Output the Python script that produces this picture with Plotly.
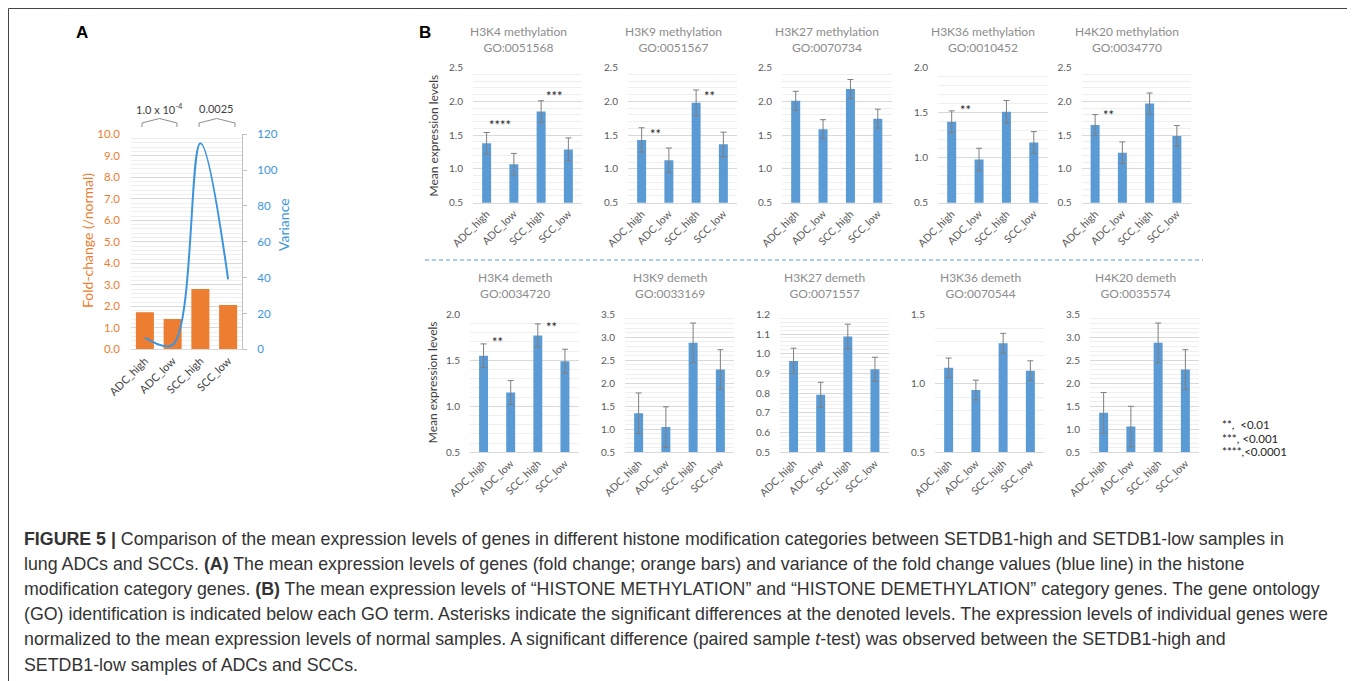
import plotly.graph_objects as go
import plotly.io as pio

pio.templates.default = "none"
W, H = 1355, 681
OX, OY = 8, 8   # page body margin compensation

# ---------------- data ----------------
categories = ["ADC_high", "ADC_low", "SCC_high", "SCC_low"]

# Panel A
fold_change = [1.72, 1.41, 2.80, 2.06]
variance = [6.5, 2.5, 115.0, 39.0]
pvalues_A = ["1.0 x 10<sup>-4</sup>", "0.0025"]

# Panel B
titles_B = ["H3K4 methylation", "H3K9 methylation", "H3K27 methylation",
            "H3K36 methylation", "H4K20 methylation",
            "H3K4 demeth", "H3K9 demeth", "H3K27 demeth",
            "H3K36 demeth", "H4K20 demeth"]
go_ids = ["GO:0051568", "GO:0051567", "GO:0070734", "GO:0010452", "GO:0034770",
          "GO:0034720", "GO:0033169", "GO:0071557", "GO:0070544", "GO:0035574"]

h3k4_meth = [1.38, 1.07, 1.85, 1.29]
h3k4_meth_err = [0.16, 0.16, 0.16, 0.17]
h3k9_meth = [1.43, 1.13, 1.98, 1.365]
h3k9_meth_err = [0.18, 0.18, 0.19, 0.18]
h3k27_meth = [2.01, 1.59, 2.185, 1.745]
h3k27_meth_err = [0.14, 0.14, 0.14, 0.14]
h3k36_meth = [1.40, 0.98, 1.51, 1.17]
h3k36_meth_err = [0.12, 0.125, 0.125, 0.12]
h4k20_meth = [1.65, 1.24, 1.97, 1.49]
h4k20_meth_err = [0.155, 0.16, 0.155, 0.153]
h3k4_dem = [1.55, 1.15, 1.77, 1.49]
h3k4_dem_err = [0.128, 0.13, 0.126, 0.13]
h3k9_dem = [1.35, 1.05, 2.88, 2.30]
h3k9_dem_err = [0.44, 0.44, 0.43, 0.43]
h3k27_dem = [0.963, 0.792, 1.087, 0.921]
h3k27_dem_err = [0.065, 0.063, 0.063, 0.061]
h3k36_dem = [1.113, 0.951, 1.29, 1.091]
h3k36_dem_err = [0.07, 0.072, 0.072, 0.072]
h4k20_dem = [1.36, 1.06, 2.88, 2.30]
h4k20_dem_err = [0.44, 0.44, 0.43, 0.43]

means_B = [h3k4_meth, h3k9_meth, h3k27_meth, h3k36_meth, h4k20_meth,
           h3k4_dem, h3k9_dem, h3k27_dem, h3k36_dem, h4k20_dem]
errs_B = [h3k4_meth_err, h3k9_meth_err, h3k27_meth_err, h3k36_meth_err, h4k20_meth_err,
          h3k4_dem_err, h3k9_dem_err, h3k27_dem_err, h3k36_dem_err, h4k20_dem_err]
yranges_B = [[0.5, 2.5], [0.5, 2.5], [0.5, 2.5], [0.5, 2.0], [0.5, 2.5],
             [0.5, 2.0], [0.5, 3.5], [0.5, 1.2], [0.5, 1.5], [0.5, 3.5]]
dticks_B = [0.5, 0.5, 0.5, 0.5, 0.5, 0.5, 0.5, 0.1, 0.5, 0.5]
minor_B = [0.1, 0.1, 0.1, 0.1, 0.1, 0.1, 0.1, 0.02, 0.1, 0.1]

# significance marks: (panel, x position between bars, y value, text)
stars = [(0, 0.5, 1.70, "****"), (0, 2.5, 2.12, "***"),
         (1, 0.5, 1.56, "**"), (1, 2.5, 2.13, "**"),
         (3, 0.5, 1.56, "**"), (4, 0.5, 1.85, "**"),
         (5, 0.5, 1.735, "**"), (5, 2.5, 1.895, "**")]
legend_lines = ["**,&nbsp;&nbsp;&lt;0.01", "***, &lt;0.001", "****,&lt;0.0001"]

caption_lines = [
    "<b>FIGURE 5 |</b> Comparison of the mean expression levels of genes in different histone modification categories between SETDB1-high and SETDB1-low samples in",
    "lung ADCs and SCCs. <b>(A)</b> The mean expression levels of genes (fold change; orange bars) and variance of the fold change values (blue line) in the histone",
    "modification category genes. <b>(B)</b> The mean expression levels of \u201cHISTONE METHYLATION\u201d and \u201cHISTONE DEMETHYLATION\u201d category genes. The gene ontology",
    "(GO) identification is indicated below each GO term. Asterisks indicate the significant differences at the denoted levels. The expression levels of individual genes were",
    "normalized to the mean expression levels of normal samples. A significant difference (paired sample <i>t</i>-test) was observed between the SETDB1-high and",
    "SETDB1-low samples of ADCs and SCCs.",
]

# ---------------- style ----------------
ORANGE = "#ED7D31"
BLUE_LINE = "#3C95DC"
BAR_BLUE = "#5B9BD5"
GRID = "#D9D9D9"
MINOR = "#EFEFEF"
CHART_FONT = "Lato, Open Sans, sans-serif"
CAP_FONT = "Liberation Sans, Arial, sans-serif"


def px(x):
    return (x - OX) / W


def py(y):
    return 1 - (y - OY) / H


def xd(a, b):
    return [px(a), px(b)]


def yd(top, bot):
    return [py(bot), py(top)]


def note(text, x, y, size, color, family=CHART_FONT, xanchor="center", yanchor="middle", **kw):
    d = dict(text=text, x=px(x), y=py(y), xref="paper", yref="paper", showarrow=False,
             xanchor=xanchor, yanchor=yanchor, font=dict(size=size, color=color, family=family))
    d.update(kw)
    return d


fig = go.Figure()
layout = dict(width=W, height=H, margin=dict(l=0, r=0, t=0, b=0, pad=0, autoexpand=False),
              autosize=False,
              paper_bgcolor="white", plot_bgcolor="rgba(0,0,0,0)",
              showlegend=False, font=dict(family=CHART_FONT))
annotations = []
shapes = []

# ---------------- Panel A ----------------
fig.add_trace(go.Bar(x=categories, y=fold_change, marker_color=ORANGE, width=0.65,
                     xaxis="x", yaxis="y", hoverinfo="skip"))
fig.add_trace(go.Scatter(x=categories, y=variance, mode="lines",
                         line=dict(color=BLUE_LINE, width=2, shape="spline", smoothing=1.0),
                         xaxis="x", yaxis="y12", hoverinfo="skip"))
layout["xaxis"] = dict(domain=xd(131, 242), anchor="y", type="category", range=[-0.5, 3.5],
                       tickangle=-45, tickfont=dict(size=11, color="#404040"), automargin=False,
                       showline=True, linecolor=GRID, showgrid=False, fixedrange=True, ticks="")
layout["yaxis"] = dict(domain=yd(134.3, 349.3), anchor="x", range=[0, 10], dtick=1,
                       tickformat=".1f", tickfont=dict(size=11.5, color=ORANGE), automargin=False,
                       showgrid=True, gridcolor=GRID, gridwidth=1, zeroline=False, ticks="",
                       minor=dict(dtick=0.2, showgrid=True, gridcolor=MINOR),
                       ticklabelstandoff=10)
layout["yaxis12"] = dict(overlaying="y", side="right", anchor="x", range=[0, 120], dtick=20,
                         showgrid=False, zeroline=False, automargin=False,
                         tickfont=dict(size=11.5, color=BLUE_LINE),
                         showline=True, linecolor="#BFBFBF", ticks="outside", ticklen=4,
                         tickcolor="#BFBFBF", ticklabelstandoff=8)
annotations.append(note("Fold-change (/normal)", 87, 241, 14, ORANGE, textangle=-90))
annotations.append(note("Variance", 283, 225, 14, BLUE_LINE, textangle=-90))
for txt, cx in zip(pvalues_A, [159.5, 216.5]):
    annotations.append(note(txt, cx, 108, 11, "#404040"))
for (a, m, b) in [(142, 159.5, 177), (199, 216.7, 235)]:
    path = (f"M {px(a)},{py(127)} L {px(a)},{py(123)} L {px(m)},{py(118.5)} "
            f"L {px(b)},{py(123)} L {px(b)},{py(127)}")
    shapes.append(dict(type="path", path=path, xref="paper", yref="paper",
                       line=dict(color="#8C8C8C", width=1)))

# ---------------- Panel B ----------------
plot_x = [(473, 582), (628, 737), (782, 891.5), (938, 1047.5), (1081.5, 1190.5),
          (470, 578.5), (625, 734), (780, 888.5), (935, 1044), (1090, 1199)]
row_y = [(67.7, 202.7), (314.3, 452.3)]

for i in range(10):
    k = i + 2
    r = 0 if i < 5 else 1
    x0, x1 = plot_x[i]
    y0, y1 = row_y[r]
    fig.add_trace(go.Bar(x=categories, y=means_B[i], marker_color=BAR_BLUE, width=0.33,
                         error_y=dict(type="data", array=errs_B[i], color="#7F7F7F",
                                      thickness=1, width=3),
                         xaxis=f"x{k}", yaxis=f"y{k}", hoverinfo="skip"))
    layout[f"xaxis{k}"] = dict(domain=xd(x0, x1), anchor=f"y{k}", type="category",
                               range=[-0.5, 3.5], tickangle=-45, automargin=False, ticks="",
                               tickfont=dict(size=10.5, color="#595959"),
                               showline=True, linecolor=GRID, showgrid=False, fixedrange=True)
    layout[f"yaxis{k}"] = dict(domain=yd(y0, y1), anchor=f"x{k}", range=yranges_B[i],
                               dtick=dticks_B[i], tick0=0.5, tickformat=".1f", automargin=False,
                               tickfont=dict(size=10, color="#595959"), ticks="",
                               showgrid=True, gridcolor=GRID, zeroline=False,
                               minor=dict(dtick=minor_B[i], tick0=0.5, showgrid=True, gridcolor=MINOR),
                               ticklabelstandoff=9)
    cx = (x0 + x1) / 2 - 9.5
    ty = 39.3 if r == 0 else 285.8
    annotations.append(note(f"{titles_B[i]}<br>{go_ids[i]}", cx, ty, 12, "#8C8C8C"))

for (p, xpos, yv, txt) in stars:
    k = p + 2
    annotations.append(dict(text=txt, x=xpos, y=yv, xref=f"x{k}", yref=f"y{k}",
                            showarrow=False, yshift=-3, xanchor="center", yanchor="middle",
                            font=dict(size=13, color="#262626", family=CHART_FONT)))

for ycen in [135, 381.7]:
    annotations.append(note("Mean expression levels", 432.5, ycen, 12, "#404040", textangle=-90))

for t, yy in zip(legend_lines, [424, 438.3, 451.7]):
    annotations.append(note(t, 1220, yy, 11.5, "#262626", xanchor="left"))

# panel letters
annotations.append(note("<b>A</b>", 82, 33, 17, "black", family="Liberation Sans, Arial"))
annotations.append(note("<b>B</b>", 425, 33, 17, "black", family="Liberation Sans, Arial"))

# dashed separator
shapes.append(dict(type="line", x0=px(425), x1=px(1203), y0=py(260), y1=py(260),
                   xref="paper", yref="paper", line=dict(color=BAR_BLUE, width=1.2, dash="4px,3px")))
# frame
shapes.append(dict(type="line", x0=px(8.5), x1=1.0, y0=py(8.5), y1=py(8.5), xref="paper", yref="paper",
                   line=dict(color="#444444", width=1)))
shapes.append(dict(type="line", x0=px(8.5), x1=px(8.5), y0=py(8.5), y1=0, xref="paper", yref="paper",
                   line=dict(color="#444444", width=1)))

# caption
for j, line in enumerate(caption_lines):
    annotations.append(note(line, 22, 538.5 + 25.2 * j, 17.8, "#333333", family=CAP_FONT,
                            xanchor="left", align="left"))

layout["annotations"] = annotations
layout["shapes"] = shapes
fig.update_layout(**layout)
fig.write_html("out.html")
